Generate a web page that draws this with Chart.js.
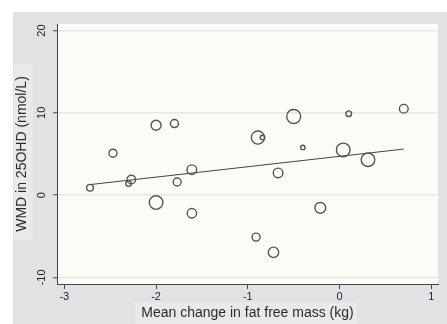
<!DOCTYPE html>
<html>
<head>
<meta charset="utf-8">
<script src="https://cdn.jsdelivr.net/npm/chart.js@4/dist/chart.umd.min.js"></script>
<style>
  html, body { margin: 0; padding: 0; background: #fff; }
  #wrap { width: 447px; height: 324px; position: relative; }
</style>
</head>
<body>
<div id="wrap"><canvas id="chart-canvas" width="447" height="324"></canvas></div>
<script>
// study-level points: mean change in fat free mass vs WMD in 25OHD
const changeFFM = [-2.72, -2.47, -2.27, -2.30, -2.00, -2.00, -1.80, -1.77, -1.61, -1.61, -0.89,
                   -0.84, -0.91, -0.67, -0.72, -0.50, -0.40, -0.21, 0.10, 0.04, 0.31, 0.70];
const wmd = [0.9, 5.1, 1.9, 1.4, 8.5, -0.9, 8.7, 1.6, 3.1, -2.2, 7.0,
             7.0, -5.1, 2.7, -6.95, 9.55, 5.8, -1.55, 9.9, 5.5, 4.3, 10.5];
const weight = [3.4, 4.0, 4.3, 2.8, 5.0, 6.8, 4.0, 4.0, 4.8, 4.7, 6.6,
                2.3, 4.0, 4.8, 5.2, 7.0, 2.2, 5.4, 2.8, 6.8, 6.8, 4.4];

// fitted meta-regression line (end points)
const fitX = [-2.72, 0.70];
const fitY = [1.28, 5.6];

const xTicks = [-3, -2, -1, 0, 1];
const yTicks = [-10, 0, 10, 20];

const points = changeFFM.map((x, i) => ({ x: x, y: wmd[i], r: weight[i] }));
const fitLine = fitX.map((x, i) => ({ x: x, y: fitY[i] }));

const background = {
    id: 'background',
    beforeDraw(chart) {
        const c = chart.ctx;
        const a = chart.chartArea;
        c.save();
        c.fillStyle = '#ffffff';
        c.fillRect(0, 0, chart.width, chart.height);
        c.fillStyle = '#e2e2e2';
        c.fillRect(13, 12, chart.width - 13, chart.height - 12);
        // lighter boxes behind the axis titles
        c.fillStyle = '#e9e9e9';
        c.fillRect(14, 64, 19, 176);
        c.fillRect(135, 302, 222, 22);
        c.fillStyle = '#fcfcf6';
        c.fillRect(a.left, a.top, a.right - a.left, a.bottom - a.top);
        c.restore();
    }
};

const ctx = document.getElementById('chart-canvas').getContext('2d');
new Chart(ctx, {
    type: 'bubble',
    data: {
        datasets: [{
            type: 'bubble',
            data: points,
            backgroundColor: 'rgba(0,0,0,0)',
            borderColor: '#555555',
            borderWidth: 1.4
        }, {
            type: 'line',
            data: fitLine,
            borderColor: '#444444',
            borderWidth: 1,
            pointRadius: 0,
            fill: false,
            tension: 0
        }]
    },
    options: {
        responsive: false,
        animation: false,
        layout: { padding: { top: 24, right: 9, bottom: 0, left: 0 } },
        plugins: {
            legend: { display: false },
            tooltip: { enabled: false }
        },
        scales: {
            x: {
                type: 'linear',
                min: -3.08,
                max: 1.073,
                afterBuildTicks: s => { s.ticks = xTicks.map(v => ({ value: v })); },
                afterFit: s => { s.height = 40; },
                border: { color: '#444', width: 1 },
                grid: { drawOnChartArea: false, tickLength: 5, tickColor: '#444' },
                ticks: {
                    color: '#1f1f38',
                    padding: 1,
                    maxRotation: 0,
                    font: { family: 'Liberation Sans, Arial, sans-serif', size: 11 }
                },
                title: {
                    display: true,
                    text: 'Mean change in fat free mass (kg)',
                    color: '#2b2b2b',
                    padding: { top: 0, bottom: 2 },
                    font: { family: 'Liberation Sans, Arial, sans-serif', size: 14 }
                }
            },
            y: {
                type: 'linear',
                min: -10.8,
                max: 20.8,
                afterBuildTicks: s => { s.ticks = yTicks.map(v => ({ value: v })); },
                afterFit: s => { s.width = 57; },
                border: { color: '#444', width: 1 },
                grid: { color: '#e6e6e6', lineWidth: 1.5, tickLength: 4, tickColor: '#444', tickWidth: 1 },
                ticks: {
                    color: '#1f1f38',
                    padding: 3,
                    minRotation: 90,
                    maxRotation: 90,
                    crossAlign: 'center',
                    font: { family: 'Liberation Sans, Arial, sans-serif', size: 11 }
                },
                title: {
                    display: true,
                    text: 'WMD in 25OHD (nmol/L)',
                    color: '#2b2b2b',
                    padding: { top: 14, bottom: 0 },
                    font: { family: 'Liberation Sans, Arial, sans-serif', size: 14 }
                }
            }
        }
    },
    plugins: [background]
});
</script>
</body>
</html>
